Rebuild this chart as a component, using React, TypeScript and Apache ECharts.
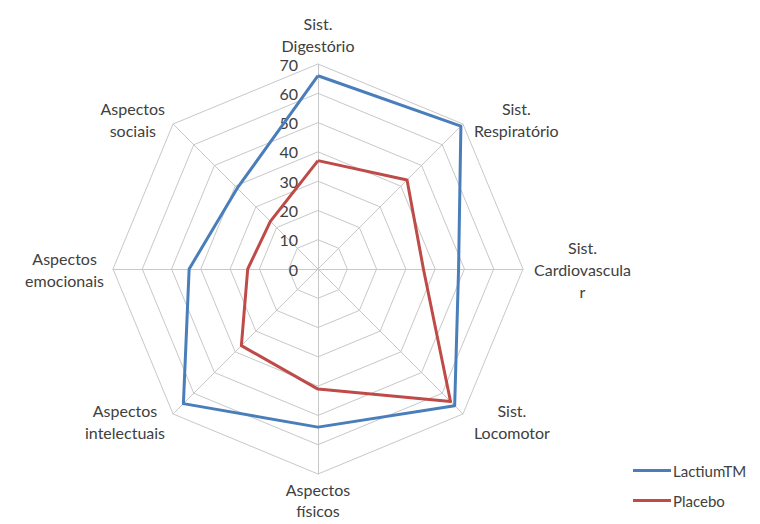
import React, { useEffect, useRef } from "react";
import * as echarts from "echarts";

// Categories in clockwise order starting at the top
const categories = [
  "Sist.\nDigestório",
  "Sist.\nRespiratório",
  "Sist.\nCardiovascula\nr",
  "Sist.\nLocomotor",
  "Aspectos\nfísicos",
  "Aspectos\nintelectuais",
  "Aspectos\nemocionais",
  "Aspectos\nsociais",
];
const lactium = [66, 69, 48, 66, 54, 65, 44, 39];
const placebo = [37, 43, 36, 64, 41, 37, 24, 23];
const seriesNames = ["LactiumTM", "Placebo"];
const axisMin = 0;
const axisMax = 70;
const axisSplits = 7;

const COLORS = ["#4a7ebb", "#be4b48"];
const CX = 318;
const CY = 269;
const R = 205;
const FONT = "Lato";
const FS = 16;
const LH = 22;
const TEXT = "#404040";
const GRID = "#c8c8c8";

// ECharts places radar indicators counter-clockwise; reorder clockwise lists
function ecOrder<T>(arr: T[]): T[] {
  return [arr[0], ...arr.slice(1).reverse()];
}

function nameGraphics() {
  const canvas = document.createElement("canvas");
  const ctx = canvas.getContext("2d")!;
  ctx.font = `${FS}px ${FONT}`;
  const n = categories.length;
  return categories.map((c, i) => {
    const a = Math.PI / 2 - (i * 2 * Math.PI) / n;
    const dx = Math.cos(a);
    const dy = -Math.sin(a);
    const vx = CX + R * dx;
    const vy = CY + R * dy;
    const lines = c.split("\n");
    const w = Math.max(...lines.map((l) => ctx.measureText(l).width));
    let lh = LH;
    let x = vx;
    let top = vy;
    if (Math.abs(dx) < 0.1) {
      x = vx;
      if (dy > 0) lh = 21;
      const h = lines.length * lh;
      top = dy < 0 ? vy - 8 - h : vy + 5;
    } else if (Math.abs(dy) < 0.1) {
      const h = lines.length * lh;
      x = dx > 0 ? vx + 11 + w / 2 : vx - 9 - w / 2;
      top = vy - h / 2;
    } else {
      const h = lines.length * lh;
      x = dx > 0 ? vx + 11 + w / 2 : vx - 8 - w / 2;
      top = vy - h / 2 + (dy > 0 ? 8 : -5);
    }
    return {
      type: "text",
      x,
      y: top,
      silent: true,
      style: {
        text: c,
        fill: TEXT,
        fontFamily: FONT,
        fontSize: FS,
        lineHeight: lh,
        align: "center",
        textAlign: "center",
        verticalAlign: "top",
        textVerticalAlign: "top",
      },
    };
  });
}

export default function App() {
  const ref = useRef<HTMLDivElement>(null);
  useEffect(() => {
    if (!ref.current) return;
    const chart = echarts.init(ref.current, undefined, { renderer: "svg" });
    const indicators = ecOrder(categories).map((name, k) => {
      const ind: any = { name, min: axisMin, max: axisMax };
      if (k === 0) {
        ind.axisLabel = {
          show: true,
          color: TEXT,
          fontFamily: FONT,
          fontSize: FS,
          margin: 20,
        };
      }
      return ind;
    });
    chart.setOption({
      animation: false,
      backgroundColor: "#ffffff",
      legend: {
        orient: "vertical",
        left: 628,
        top: 457,
        icon: "rect",
        itemWidth: 38,
        itemHeight: 3,
        itemGap: 13,
        data: seriesNames,
        textStyle: { fontFamily: FONT, fontSize: 15, color: TEXT, lineHeight: 17, padding: [0, 0, 0, -3] },
      },
      radar: {
        center: [CX, CY],
        radius: R,
        startAngle: 90,
        splitNumber: axisSplits,
        shape: "polygon",
        indicator: indicators,
        axisName: { show: false },
        splitLine: { lineStyle: { color: GRID, width: 1 } },
        splitArea: { show: false },
        axisLine: { lineStyle: { color: GRID, width: 1 } },
        axisTick: { show: false },
        axisLabel: { show: false },
      },
      graphic: nameGraphics(),
      series: [
        {
          type: "radar",
          symbol: "none",
          data: [
            {
              name: seriesNames[0],
              value: ecOrder(lactium),
              lineStyle: { color: COLORS[0], width: 3 },
              itemStyle: { color: COLORS[0] },
            },
            {
              name: seriesNames[1],
              value: ecOrder(placebo),
              lineStyle: { color: COLORS[1], width: 3 },
              itemStyle: { color: COLORS[1] },
            },
          ],
        },
      ],
    });
    return () => chart.dispose();
  }, []);
  return (
    <div
      ref={ref}
      style={{ position: "absolute", left: 0, top: 0, width: 760, height: 524, background: "#fff" }}
    />
  );
}
